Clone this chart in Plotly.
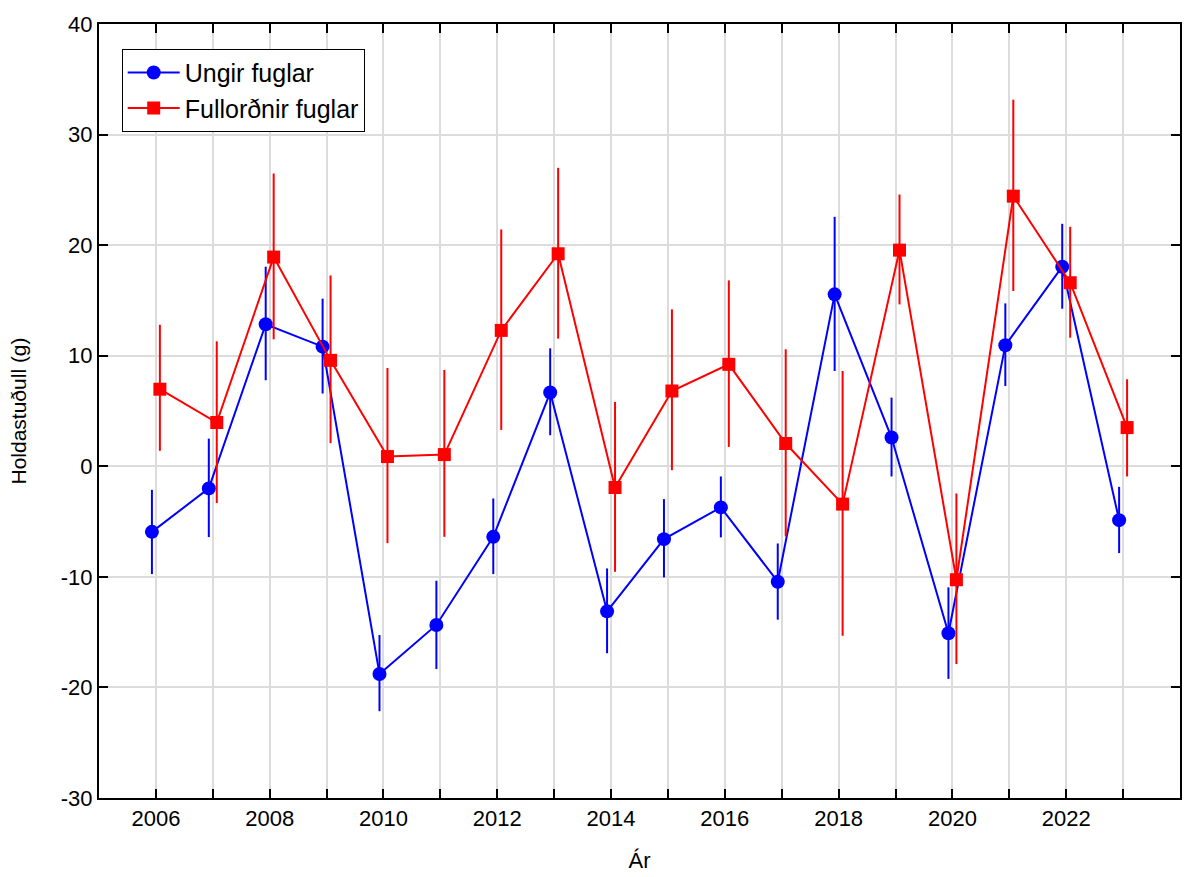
import plotly.graph_objects as go

years = list(range(2006, 2024))

ungir_mean = [-5.93, -2.0, 12.84, 10.82, -18.78, -14.35, -6.38, 6.67, -13.12, -6.59,
              -3.72, -10.44, 15.55, 2.6, -15.1, 10.94, 18.05, -4.87]
ungir_upper = [-2.13, 2.5, 18.05, 15.16, -15.26, -10.35, -2.91, 10.67, -9.24, -2.97,
               -0.92, -6.98, 22.56, 6.21, -10.95, 14.73, 21.93, -1.86]
ungir_lower = [-9.75, -6.4, 7.78, 6.58, -22.15, -18.33, -9.75, 2.81, -16.91, -10.05,
               -6.43, -13.87, 8.62, -0.92, -19.23, 7.26, 14.25, -7.85]

full_mean = [6.97, 3.96, 18.92, 9.58, 0.88, 1.06, 12.29, 19.22, -1.92, 6.81,
             9.22, 2.06, -3.42, 19.55, -10.26, 24.43, 16.6, 3.5]
full_upper = [12.8, 11.3, 26.48, 17.26, 8.89, 8.71, 21.42, 26.99, 5.82, 14.19,
              16.81, 10.58, 8.62, 24.58, -2.46, 33.16, 21.66, 7.87]
full_lower = [1.4, -3.33, 11.48, 2.09, -6.95, -6.38, 3.29, 11.54, -9.54, -0.35,
              1.75, -6.34, -15.32, 14.64, -17.88, 15.85, 11.63, -0.92]

names = ["Ungir fuglar", "Fullorðnir fuglar"]
x_title = "Ár"
y_title = "Holdastuðull (g)"
y_ticks = [-30, -20, -10, 0, 10, 20, 30, 40]

FONT = "Liberation Sans, Arial, sans-serif"
dodge = 0.07

def series(mean, upper, lower, name, color, symbol, shift):
    return go.Scatter(
        x=[y + shift for y in years], y=mean, name=name,
        mode="lines+markers",
        line=dict(color=color, width=2),
        marker=dict(color=color, symbol=symbol, size=13 if symbol == "square" else 14),
        error_y=dict(type="data", symmetric=False,
                     array=[u - m for u, m in zip(upper, mean)],
                     arrayminus=[m - l for m, l in zip(mean, lower)],
                     color=color, thickness=2, width=0),
    )

fig = go.Figure()
fig.add_trace(series(ungir_mean, ungir_upper, ungir_lower, names[0], "#0000ff", "circle", -dodge))
fig.add_trace(series(full_mean, full_upper, full_lower, names[1], "#ff0000", "square", dodge))

fig.update_layout(
    width=1184, height=877,
    margin=dict(l=99, r=2, t=24, b=79),
    plot_bgcolor="white", paper_bgcolor="white",
    font=dict(family=FONT, color="black", size=20),
    showlegend=True,
    legend=dict(x=0.021, y=0.968, xanchor="left", yanchor="top",
                bgcolor="white", bordercolor="black", borderwidth=1,
                font=dict(size=25, family=FONT), tracegroupgap=0,
                itemwidth=52),
)
fig.update_xaxes(
    range=[2005, 2024],
    tickmode="array", tickvals=years,
    ticktext=[str(y) if y % 2 == 0 else "" for y in years],
    showgrid=True, gridcolor="#dcdcdc", gridwidth=2,
    showline=True, linecolor="black", linewidth=2, mirror="allticks",
    ticks="inside", ticklen=9, tickwidth=2, tickcolor="black",
    tickfont=dict(size=22), zeroline=False,
    title=dict(text=x_title, font=dict(size=22), standoff=22),
)
fig.update_yaxes(
    range=[-30, 40], tickmode="array", tickvals=y_ticks,
    ticktext=[str(v) for v in y_ticks],
    showgrid=True, gridcolor="#dcdcdc", gridwidth=2,
    showline=True, linecolor="black", linewidth=2, mirror="allticks",
    ticks="inside", ticklen=9, tickwidth=2, tickcolor="black",
    tickfont=dict(size=22), zeroline=False,
    title=dict(text=y_title, font=dict(size=21), standoff=28),
)

fig.write_html(
    "out.html",
    config={"displayModeBar": False},
    post_script="document.body.style.margin='0';document.body.style.overflow='hidden';",
)
